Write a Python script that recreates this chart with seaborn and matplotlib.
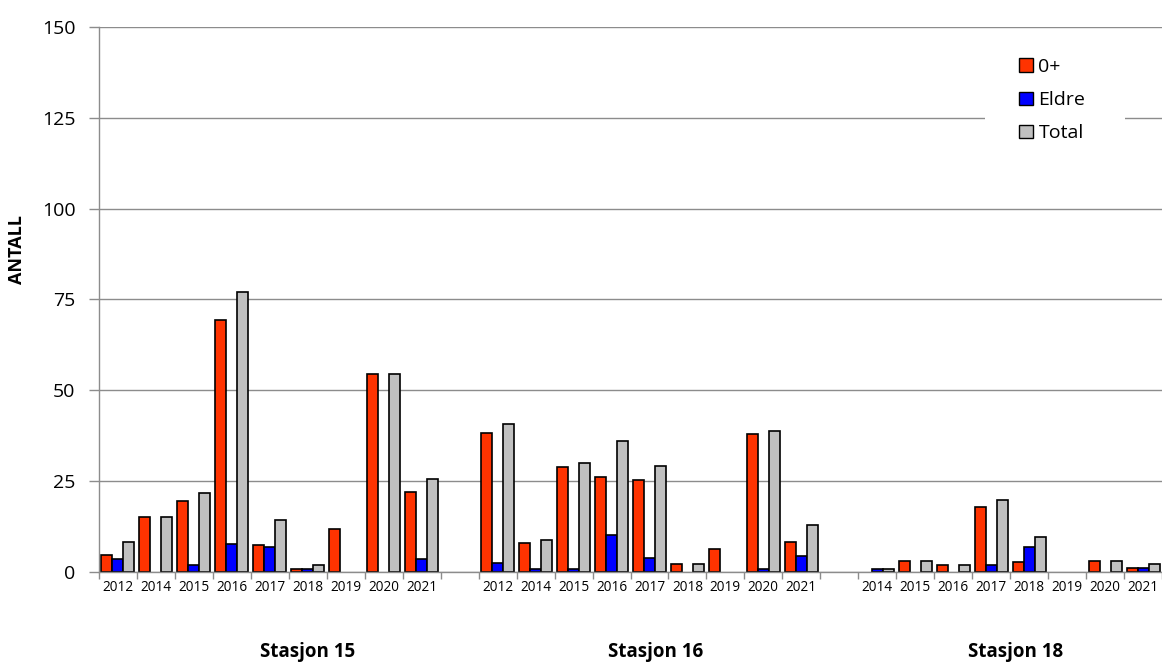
import numpy as np
import pandas as pd
import matplotlib
matplotlib.use("Agg")
import matplotlib.pyplot as plt
import seaborn as sns
from matplotlib.patches import Patch, Rectangle

# ---- data ----
stations = ["Stasjon 15", "Stasjon 16", "Stasjon 18"]
years_15 = ["2012", "2014", "2015", "2016", "2017", "2018", "2019", "2020", "2021"]
years_16 = ["2012", "2014", "2015", "2016", "2017", "2018", "2019", "2020", "2021"]
years_18 = ["2014", "2015", "2016", "2017", "2018", "2019", "2020", "2021"]

nan = np.nan
s15_0pluss = [4.7, 15.1, 19.6, 69.3, 7.3, 0.9, 11.7, 54.6, 21.9]
s15_eldre = [3.7, nan, 1.9, 7.7, 7.0, 0.9, nan, nan, 3.7]
s15_total = [8.3, 15.1, 21.7, 77.0, 14.4, 1.9, nan, 54.6, 25.7]

s16_0pluss = [38.3, 7.9, 29.0, 26.1, 25.2, 2.2, 6.4, 37.9, 8.3]
s16_eldre = [2.6, 0.9, 0.9, 10.1, 3.9, nan, nan, 0.9, 4.5]
s16_total = [40.8, 8.9, 30.1, 36.1, 29.1, 2.2, nan, 38.9, 12.8]

s18_0pluss = [nan, 3.1, 1.8, 17.8, 2.8, nan, 3.1, 1.1]
s18_eldre = [0.9, nan, nan, 1.9, 7.0, nan, nan, 1.1]
s18_total = [0.9, 3.1, 1.8, 19.8, 9.7, nan, 3.1, 2.1]

series_names = ["0+", "Eldre", "Total"]
colors = ["#FF3300", "#0000FF", "#C0C0C0"]

# ---- build long table ----
rows = []
order = []
ticklabels = []
blocks = [
    ("15", years_15, [s15_0pluss, s15_eldre, s15_total]),
    ("16", years_16, [s16_0pluss, s16_eldre, s16_total]),
    ("18", years_18, [s18_0pluss, s18_eldre, s18_total]),
]
for bi, (st, yrs, vals) in enumerate(blocks):
    for i, y in enumerate(yrs):
        key = f"{st}-{y}"
        order.append(key)
        ticklabels.append(y)
        for name, v in zip(series_names, vals):
            rows.append({"cat": key, "serie": name, "verdi": v[i]})
    if bi < len(blocks) - 1:
        order.append(f"gap{bi}")
        ticklabels.append("")
df = pd.DataFrame(rows).dropna()

# ---- plot ----
sns.set_theme(style="white")
plt.rcParams["font.family"] = ["Open Sans", "DejaVu Sans"]
plt.rcParams["text.color"] = "black"
plt.rcParams["xtick.labelcolor"] = "black"
plt.rcParams["ytick.labelcolor"] = "black"

fig = plt.figure(figsize=(11.62, 6.62), dpi=100)
ax = fig.add_axes([99 / 1162, 1 - 572 / 662, 1 - 99 / 1162, (572 - 27) / 662])

sns.barplot(data=df, x="cat", y="verdi", hue="serie", order=order,
            hue_order=series_names, palette=colors, width=0.87,
            edgecolor="black", linewidth=1.2, ax=ax, legend=False,
            errorbar=None, saturation=1)

ncat = len(order)
ax.set_xlim(-0.5, -0.5 + (1162 - 99) / 38.14)
ax.set_ylim(0, 150)
ax.set_yticks(np.arange(0, 151, 25))
ax.yaxis.grid(True, color="#8C8C8C", linewidth=1)
ax.set_axisbelow(True)

# ticks at category boundaries, labels at centers
ax.set_xticks(np.arange(-0.5, ncat + 0.5, 1))
ax.set_xticklabels([])
ax.set_xticks(np.arange(ncat), minor=True)
ax.set_xticklabels(ticklabels, minor=True, fontsize=9.8, color="black")
ax.tick_params(axis="x", which="major", length=5, color="#8C8C8C", width=1, direction="out", bottom=True)
ax.tick_params(axis="x", which="minor", length=0, pad=6, labelcolor="black")
ax.tick_params(axis="y", length=7, color="#8C8C8C", width=1, direction="out", left=True,
               labelsize=14, pad=10, labelcolor="black")

for s in ["top", "right"]:
    ax.spines[s].set_visible(False)
ax.spines["left"].set_color("#8C8C8C")
ax.spines["bottom"].set_color("#8C8C8C")
ax.spines["left"].set_linewidth(1)
ax.spines["bottom"].set_linewidth(1)

ax.set_xlabel("")
ax.set_ylabel("")
fig.text(17 / 1162, 1 - 250 / 662, "ANTALL", rotation=90, ha="center", va="center",
         fontsize=13, fontweight="bold", color="black")

for label, px in zip(stations, [308, 656, 1016]):
    fig.text(px / 1162, 1 - 652 / 662, label, ha="center", va="center",
             fontsize=13.5, fontweight="bold", color="black")

# white legend background area (covers the gridline as in the reference)
ax.add_patch(Rectangle(((985 - 99) / 1063, (572 - 150) / 545), 140 / 1063, 105 / 545,
                       transform=ax.transAxes, facecolor="white", edgecolor="none",
                       zorder=2))

handles = [Patch(facecolor=c, edgecolor="black", linewidth=1) for c in colors]
leg = ax.legend(handles, series_names, loc="upper left",
                bbox_to_anchor=((1019 - 99) / 1063, (572 - 58) / 545),
                frameon=False, fontsize=14, handlelength=0.7, handleheight=0.7,
                handletextpad=0.3, labelspacing=0.78, borderpad=0,
                borderaxespad=0)
for t in leg.get_texts():
    t.set_color("black")

fig.savefig("out.png", dpi=100)
